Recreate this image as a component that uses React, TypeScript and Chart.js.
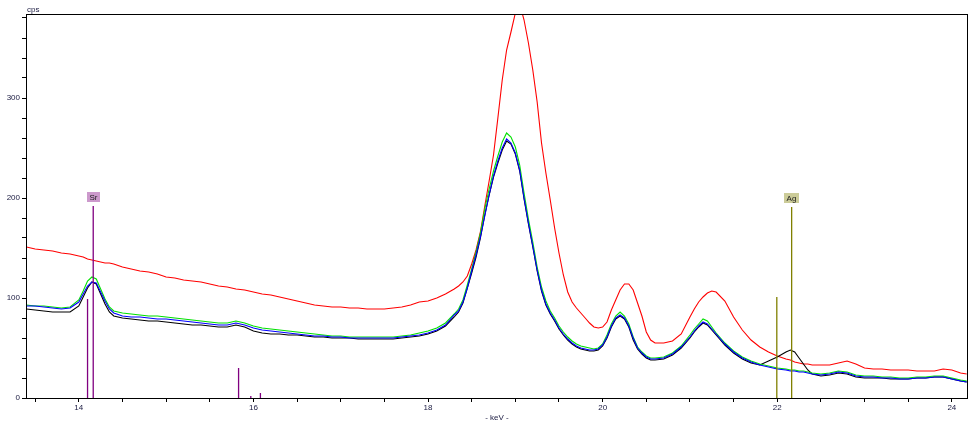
import React, { useEffect, useRef } from "react";
import { Chart, registerables } from "chart.js";

Chart.register(...registerables);

// Energy axis (keV) shared by all spectra
const keV = [
  13.4, 13.5, 13.6, 13.7, 13.8, 13.9, 14.0, 14.05, 14.1, 14.15,
  14.2, 14.25, 14.3, 14.35, 14.4, 14.5, 14.6, 14.7, 14.8, 14.9,
  15.0, 15.1, 15.2, 15.3, 15.4, 15.5, 15.6, 15.7, 15.8, 15.9,
  16.0, 16.1, 16.2, 16.3, 16.4, 16.5, 16.6, 16.7, 16.8, 16.9,
  17.0, 17.1, 17.2, 17.3, 17.4, 17.5, 17.6, 17.7, 17.8, 17.9,
  18.0, 18.1, 18.2, 18.3, 18.35, 18.4, 18.45, 18.5, 18.55, 18.6,
  18.65, 18.7, 18.75, 18.8, 18.85, 18.9, 18.95, 19.0, 19.05, 19.1,
  19.15, 19.2, 19.25, 19.3, 19.35, 19.4, 19.45, 19.5, 19.55, 19.6,
  19.65, 19.7, 19.75, 19.8, 19.85, 19.9, 19.95, 20.0, 20.05, 20.1,
  20.15, 20.2, 20.25, 20.3, 20.35, 20.4, 20.45, 20.5, 20.55, 20.6,
  20.7, 20.8, 20.9, 21.0, 21.05, 21.1, 21.15, 21.2, 21.25, 21.3,
  21.4, 21.5, 21.6, 21.7, 21.8, 21.9, 22.0, 22.1, 22.15, 22.2,
  22.25, 22.3, 22.35, 22.4, 22.5, 22.6, 22.7, 22.8, 22.9, 23.0,
  23.1, 23.2, 23.3, 23.4, 23.5, 23.6, 23.7, 23.8, 23.9, 24.0,
  24.1, 24.17,
];

const redCps = [
  151, 149, 148, 147, 145, 144, 142, 141, 139, 138,
  137, 136, 135, 135, 134, 131, 129, 127, 126, 124,
  121, 120, 118, 117, 116, 114, 112, 111, 109, 108,
  106, 104, 103, 101, 99, 97, 95, 93, 92, 91,
  91, 90, 90, 89, 89, 89, 90, 91, 93, 96,
  97, 100, 104, 109, 112, 116, 122, 134, 148, 166,
  192, 217, 243, 280, 318, 348, 366, 385, 394, 378,
  355, 328, 296, 255, 225, 198, 170, 145, 123, 106,
  96, 90, 85, 80, 75, 71, 70, 71, 76, 88,
  98, 108, 114, 114, 108, 95, 82, 66, 58, 55,
  55, 57, 64, 81, 89, 96, 101, 105, 107, 106,
  97, 81, 68, 58, 51, 46, 42, 39, 38, 36,
  35, 34, 34, 33, 33, 33, 35, 37, 34, 30,
  29, 29, 28, 28, 28, 27, 27, 27, 29, 28,
  25, 24,
];

const blackCps = [
  89, 88, 87, 86, 86, 86, 92, 101, 110, 116,
  114, 104, 94, 86, 82, 80, 79, 78, 77, 77,
  76, 75, 74, 73, 73, 72, 71, 71, 73, 71,
  67, 65, 64, 64, 63, 63, 62, 61, 61, 60,
  60, 60, 59, 59, 59, 59, 59, 60, 61, 62,
  64, 67, 72, 81, 86, 95, 110, 125, 141, 160,
  183, 203, 221, 235, 248, 257, 254, 244, 227, 199,
  174, 151, 127, 107, 93, 84, 77, 69, 63, 58,
  54, 51, 49, 48, 47, 47, 48, 52, 60, 71,
  79, 82, 79, 71, 58, 49, 44, 40, 38, 38,
  39, 43, 50, 60, 66, 71, 75, 73, 68, 63,
  53, 45, 39, 35, 33, 37, 41, 46, 48, 46,
  40, 34, 28, 24, 22, 23, 25, 24, 21, 20,
  20, 20, 19, 19, 19, 20, 20, 21, 21, 19,
  17, 16,
];

const greenCps = [
  93, 92, 92, 91, 90, 91, 98, 107, 117, 121,
  119, 109, 99, 91, 87, 85, 84, 83, 82, 82,
  81, 80, 79, 78, 77, 76, 75, 75, 77, 75,
  72, 70, 69, 68, 67, 66, 65, 64, 63, 62,
  62, 61, 61, 61, 61, 61, 61, 62, 63, 65,
  67, 70, 75, 84, 89, 98, 113, 129, 146, 165,
  189, 209, 227, 242, 256, 265, 261, 251, 233, 205,
  179, 156, 131, 111, 97, 87, 80, 72, 66, 61,
  57, 54, 52, 51, 50, 49, 50, 54, 63, 74,
  82, 86, 82, 74, 61, 51, 46, 42, 40, 40,
  41, 45, 52, 63, 69, 74, 79, 77, 71, 65,
  55, 47, 41, 37, 34, 32, 30, 29, 28, 28,
  27, 27, 26, 25, 24, 25, 27, 26, 23, 22,
  22, 21, 21, 20, 20, 21, 21, 22, 22, 20,
  18, 17,
];

const blueCps = [
  92, 92, 91, 90, 89, 90, 96, 104, 112, 116,
  115, 106, 97, 89, 85, 82, 81, 81, 80, 79,
  79, 78, 77, 76, 75, 74, 73, 73, 75, 73,
  70, 68, 67, 66, 65, 64, 63, 62, 62, 61,
  61, 60, 60, 60, 60, 60, 60, 61, 62, 63,
  65, 68, 73, 83, 87, 96, 110, 127, 143, 161,
  182, 203, 222, 237, 250, 259, 255, 245, 228, 200,
  175, 152, 128, 108, 94, 85, 78, 70, 64, 59,
  55, 52, 50, 49, 48, 48, 49, 53, 61, 72,
  80, 83, 80, 72, 60, 50, 45, 41, 39, 39,
  40, 44, 51, 61, 67, 72, 76, 74, 69, 64,
  54, 46, 40, 36, 33, 31, 29, 28, 27, 27,
  26, 26, 25, 24, 23, 24, 26, 25, 22, 21,
  21, 20, 20, 19, 19, 20, 20, 21, 21, 19,
  17, 16,
];

// Element marker lines
const srLineKeV = [14.1, 14.165, 15.83, 15.97, 16.08];
const srLineCps = [99, 192, 30, 2, 5];
const agLineKeV = [21.995, 22.165];
const agLineCps = [101, 191];
const markerLabels = ["Sr", "Ag"];

// Axis
const xMin = 13.395;
const xMax = 24.185;
const yMax = 384;
const xLabelEvery = 2;
const yLabelEvery = 100;
const axisUnitY = "cps";
const axisUnitX = "- keV -";

const FONT = "'Liberation Sans', Arial, sans-serif";

function toPoints(xs: number[], ys: number[]) {
  return xs.map((x, i) => ({ x, y: ys[i] }));
}

function sticks(xs: number[], hs: number[]) {
  const out: { x: number; y: number | null }[] = [];
  xs.forEach((x, i) => {
    out.push({ x, y: 0 }, { x, y: hs[i] }, { x, y: null });
  });
  return out;
}

const framePlugin = {
  id: "frameAndText",
  afterDraw(chart: any) {
    const { ctx, chartArea, scales } = chart;
    const { left, top, right, bottom } = chartArea;
    ctx.save();
    ctx.strokeStyle = "#000";
    ctx.lineWidth = 1;
    ctx.strokeRect(left + 0.5, top + 0.5, right - left - 1, bottom - top);

    ctx.fillStyle = "#1a1a40";
    ctx.font = `8px ${FONT}`;
    ctx.textAlign = "left";
    ctx.textBaseline = "alphabetic";
    ctx.fillText(axisUnitY, left + 1, 12);
    ctx.textAlign = "center";
    ctx.fillText(axisUnitX, (left + right) / 2, 420);

    // marker labels
    const xs = scales.x;
    const ys = scales.y;
    const labelDefs = [
      { text: markerLabels[0], x: srLineKeV[1], y: srLineCps[1], bg: "#cc99cc" },
      { text: markerLabels[1], x: agLineKeV[1], y: agLineCps[1], bg: "#cccc99" },
    ];
    ctx.font = `8px ${FONT}`;
    labelDefs.forEach((d) => {
      const px = xs.getPixelForValue(d.x);
      const py = ys.getPixelForValue(d.y);
      const w = Math.ceil(ctx.measureText(d.text).width) + 5;
      const h = 10;
      const bx = Math.round(px - w / 2);
      const by = Math.round(py - 4 - h);
      ctx.fillStyle = d.bg;
      ctx.fillRect(bx, by, w, h);
      ctx.fillStyle = "#202020";
      ctx.textAlign = "center";
      ctx.textBaseline = "middle";
      ctx.fillText(d.text, bx + w / 2, by + h / 2 + 0.5);
    });
    ctx.restore();
  },
};

export default function App() {
  const ref = useRef<HTMLCanvasElement | null>(null);

  useEffect(() => {
    if (!ref.current) return;
    const lineDs = (label: string, data: number[], color: string, order: number) => ({
      label,
      data: toPoints(keV, data),
      borderColor: color,
      backgroundColor: color,
      borderWidth: 1.1,
      pointRadius: 0,
      tension: 0,
      fill: false,
      order,
    });
    const chart = new Chart(ref.current, {
      type: "line",
      data: {
        datasets: [
          lineDs("red", redCps, "#ff0000", 5),
          lineDs("black", blackCps, "#000000", 4),
          lineDs("green", greenCps, "#00e000", 3),
          lineDs("blue", blueCps, "#0000ff", 2),
          {
            label: "Sr",
            data: sticks(srLineKeV, srLineCps),
            borderColor: "#800080",
            borderWidth: 1.3,
            pointRadius: 0,
            spanGaps: false,
            order: 1,
          },
          {
            label: "Ag",
            data: sticks(agLineKeV, agLineCps),
            borderColor: "#808000",
            borderWidth: 1.3,
            pointRadius: 0,
            spanGaps: false,
            order: 1,
          },
        ] as any,
      },
      options: {
        animation: false,
        responsive: false,
        devicePixelRatio: 1,
        parsing: true,
        layout: { padding: { top: 14, right: 7, left: 0, bottom: 0 } },
        plugins: {
          legend: { display: false },
          tooltip: { enabled: false },
        },
        scales: {
          x: {
            type: "linear",
            min: xMin,
            max: xMax,
            border: { display: false },
            grid: {
              drawOnChartArea: false,
              drawTicks: true,
              tickLength: 4,
              color: "#000",
            },
            ticks: {
              stepSize: 0.5,
              includeBounds: false,
              autoSkip: false,
              maxRotation: 0,
              padding: 1,
              color: "#1a1a40",
              font: { size: 8, family: FONT },
              callback: (v: any) =>
                Math.abs(Number(v) / xLabelEvery - Math.round(Number(v) / xLabelEvery)) < 1e-6
                  ? String(Math.round(Number(v)))
                  : "",
            },
            afterFit: (s: any) => {
              s.height = 27;
            },
          },
          y: {
            type: "linear",
            min: 0,
            max: yMax,
            border: { display: false },
            grid: {
              drawOnChartArea: false,
              drawTicks: true,
              tickLength: 4,
              color: "#000",
            },
            ticks: {
              stepSize: 20,
              includeBounds: false,
              autoSkip: false,
              padding: 2,
              color: "#1a1a40",
              font: { size: 8, family: FONT },
              callback: (v: any) => (Number(v) % yLabelEvery === 0 ? String(v) : ""),
            },
            afterFit: (s: any) => {
              s.width = 26;
            },
          },
        },
      } as any,
      plugins: [framePlugin],
    });
    return () => chart.destroy();
  }, []);

  return (
    <div style={{ position: "fixed", left: 0, top: 0, width: 975, height: 425, background: "#fff" }}>
      <canvas ref={ref} width={975} height={425} style={{ display: "block" }} />
    </div>
  );
}
